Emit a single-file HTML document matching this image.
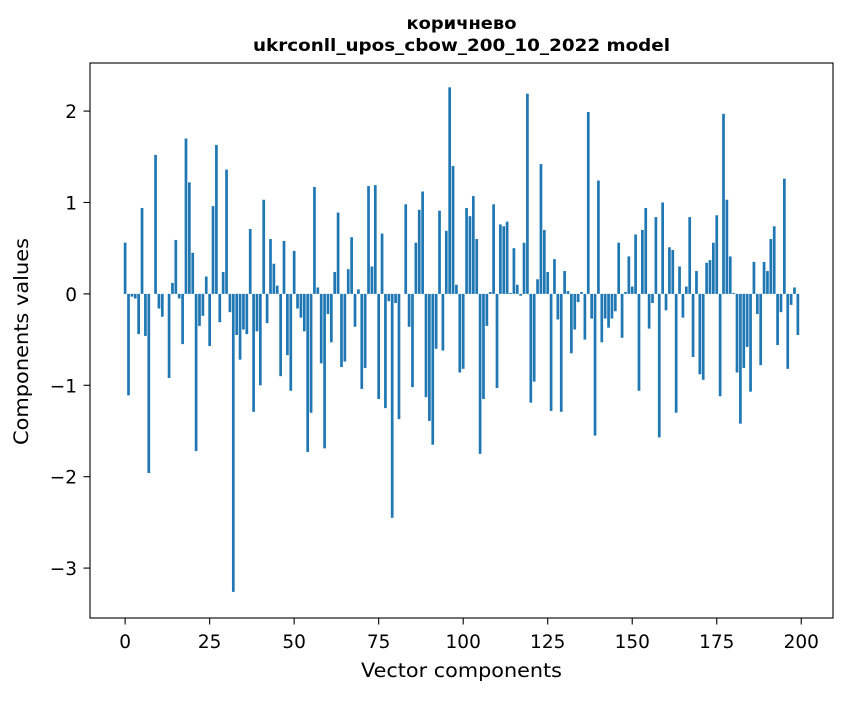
<!DOCTYPE html>
<html><head><meta charset="utf-8"><style>
body{margin:0;background:#fff}
svg text{font-family:"DejaVu Sans","Liberation Sans",sans-serif;fill:#000}
</style></head><body>
<svg id="chart" width="847" height="696" xmlns="http://www.w3.org/2000/svg">
<rect width="847" height="696" fill="#fff"/>
<text x="461.5" y="29" text-anchor="middle" font-size="17" font-weight="bold" textLength="110" lengthAdjust="spacingAndGlyphs">коричнево</text>
<text x="461.5" y="51" text-anchor="middle" font-size="17" font-weight="bold" textLength="417" lengthAdjust="spacingAndGlyphs">ukrconll_upos_cbow_200_10_2022 model</text>
<g id="bars"></g>
<g id="axes"></g>
<rect x="90" y="63" width="743" height="555" fill="none" stroke="#000" stroke-width="1.1"/>
<text x="461.5" y="677" text-anchor="middle" font-size="19.5" textLength="201" lengthAdjust="spacingAndGlyphs">Vector components</text>
<text transform="translate(28,341.5) rotate(-90)" text-anchor="middle" font-size="19.5" textLength="207" lengthAdjust="spacingAndGlyphs">Components values</text>
</svg>
<script>
const values = [0.56,-1.11,-0.03,-0.05,-0.44,0.94,-0.46,-1.96,0.0,1.52,
-0.16,-0.25,0.0,-0.92,0.12,0.59,-0.05,-0.55,1.70,1.22,
0.45,-1.72,-0.35,-0.24,0.19,-0.57,0.96,1.63,-0.31,0.24,
1.36,-0.20,-3.26,-0.45,-0.72,-0.39,-0.44,0.71,-1.29,-0.41,
-1.00,1.03,-0.32,0.60,0.33,0.09,-0.90,0.58,-0.67,-1.06,
0.47,-0.16,-0.26,-0.41,-1.73,-1.30,1.17,0.07,-0.76,-1.69,
-0.22,-0.53,0.24,0.89,-0.80,-0.74,0.27,0.62,-0.36,0.05,
-1.04,-0.81,1.18,0.30,1.19,-1.15,0.66,-1.25,-0.08,-2.45,
-0.10,-1.37,0.0,0.98,-0.36,-1.02,0.56,0.92,1.12,-1.13,
-1.39,-1.65,-0.60,0.91,-0.62,0.69,2.26,1.40,0.10,-0.86,
-0.82,0.94,0.85,1.07,0.60,-1.75,-1.15,-0.35,0.02,0.98,
-1.03,0.76,0.74,0.79,0.01,0.50,0.10,-0.02,0.56,2.19,
-1.19,-0.96,0.16,1.42,0.70,0.24,-1.28,0.38,-0.28,-1.29,
0.25,0.03,-0.65,-0.39,-0.09,0.02,-0.50,1.99,-0.27,-1.55,
1.24,-0.53,-0.27,-0.37,-0.27,-0.19,0.56,-0.48,0.02,0.41,
0.08,0.65,-1.06,0.70,0.94,-0.38,-0.10,0.84,-1.57,1.00,
-0.18,0.51,0.48,-1.30,0.30,-0.26,0.08,0.84,-0.69,0.25,
-0.88,-0.94,0.34,0.37,0.56,0.86,-1.12,1.97,1.03,0.41,
0.01,-0.86,-1.42,-0.81,-0.58,-1.07,0.35,-0.22,-0.78,0.35,
0.25,0.60,0.74,-0.56,-0.20,1.26,-0.82,-0.12,0.07,-0.45];
const xTicks = [0,25,50,75,100,125,150,175,200];
const yTicks = [-3,-2,-1,0,1,2];
const yTickLabels = ["\u22123","\u22122","\u22121","0","1","2"];

const X0=90,X1=833,Y0=63,Y1=618;
const xMin=-10.39,xMax=209.39,yMin=-3.546,yMax=2.526;
function xs(v){return X0+(v-xMin)/(xMax-xMin)*(X1-X0);}
function ys(v){return Y1-(v-yMin)/(yMax-yMin)*(Y1-Y0);}
const NS="http://www.w3.org/2000/svg";
const bars=document.getElementById('bars');
values.forEach((v,i)=>{
  const r=document.createElementNS(NS,'rect');
  const x=xs(i-0.4), w=xs(i+0.4)-x;
  const y=Math.min(ys(v),ys(0)), h=Math.abs(ys(v)-ys(0));
  r.setAttribute('x',x);r.setAttribute('y',y);
  r.setAttribute('width',w);r.setAttribute('height',h);
  r.setAttribute('fill','#1f77b4');
  
  
  bars.appendChild(r);
});
const axes=document.getElementById('axes');
xTicks.forEach(t=>{
  const x=xs(t);
  const l=document.createElementNS(NS,'line');
  l.setAttribute('x1',x);l.setAttribute('x2',x);l.setAttribute('y1',Y1);l.setAttribute('y2',Y1+6.5);
  l.setAttribute('stroke','#000');l.setAttribute('stroke-width','1.1');
  
  
  axes.appendChild(l);
  const tx=document.createElementNS(NS,'text');
  tx.setAttribute('x',x);tx.setAttribute('y',Y1+30);tx.setAttribute('text-anchor','middle');tx.setAttribute('font-size','18.5');
  tx.textContent=t;
  
  
  axes.appendChild(tx);
});
yTicks.forEach((t,i)=>{
  const y=ys(t);
  const l=document.createElementNS(NS,'line');
  l.setAttribute('x1',X0-6.5);l.setAttribute('x2',X0);l.setAttribute('y1',y);l.setAttribute('y2',y);
  l.setAttribute('stroke','#000');l.setAttribute('stroke-width','1.1');
  
  
  axes.appendChild(l);
  const tx=document.createElementNS(NS,'text');
  tx.setAttribute('x',X0-13);tx.setAttribute('y',y+7);tx.setAttribute('text-anchor','end');tx.setAttribute('font-size','18.5');
  tx.textContent=yTickLabels[i];
  
  
  axes.appendChild(tx);
});
</script>
</body></html>
